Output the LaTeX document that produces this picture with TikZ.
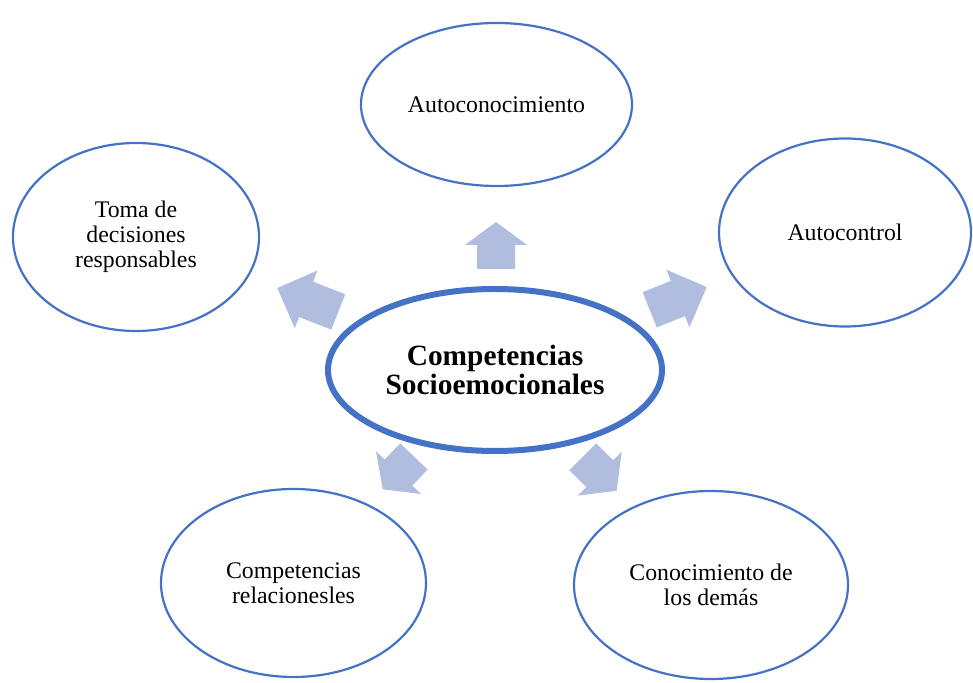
\documentclass[tikz,border=0pt]{standalone}
\usepackage{fontspec}
\setmainfont{Liberation Serif}
\usetikzlibrary{shapes.geometric}
\definecolor{borde}{RGB}{68,114,196}
\definecolor{grisazul}{RGB}{176,189,223}
\tikzstyle{idea} = [ellipse, draw=borde, line width=2.2pt, inner sep=0pt, align=center, font=\fontsize{23.8}{25}\selectfont]
\tikzstyle{nucleo} = [ellipse, draw=borde, line width=6pt, inner sep=0pt, align=center, font=\fontsize{29.4}{29.5}\selectfont\bfseries]
% punta, angulo, cola, largo de la cabeza
\newcommand{\flecha}[4]{\fill[grisazul, shift={(#1)}, rotate=#2] (0,0) -- (-#4,31) -- (-#4,19) -- (-#3,19) -- (-#3,-19) -- (-#4,-19) -- (-#4,-31) -- cycle;}

\begin{document}
\begin{tikzpicture}[x=1pt, y=1pt]
        \useasboundingbox (0,0) rectangle (973,682);
        \node (centro) [nucleo, minimum width=334pt, minimum height=162pt] at (495,312) {Competencias\\Socioemocionales};
        \node (autoc) [idea, minimum width=271pt, minimum height=163pt] at (496.5,577.5) {Autoconocimiento};
        \node (control) [idea, minimum width=252pt, minimum height=188pt] at (845,449.5) {Autocontrol};
        \node (toma) [idea, minimum width=246pt, minimum height=188pt] at (136,445) {Toma de\\decisiones\\responsables};
        \node (relac) [idea, minimum width=265pt, minimum height=188pt] at (293.5,99) {Competencias\\relacionesles};
        \node (demas) [idea, minimum width=274pt, minimum height=188pt] at (711,97) {Conocimiento de\\los dem\'as};
        \flecha{496,460}{90}{47}{23}
        \flecha{277.3,394}{158.5}{65.5}{31}
        \flecha{706.7,395}{21.8}{61.4}{31}
        \flecha{382.7,192.7}{-133.5}{45.3}{23}
        \flecha{616.7,191.3}{-45}{48}{24}
    \end{tikzpicture}
\end{document}
